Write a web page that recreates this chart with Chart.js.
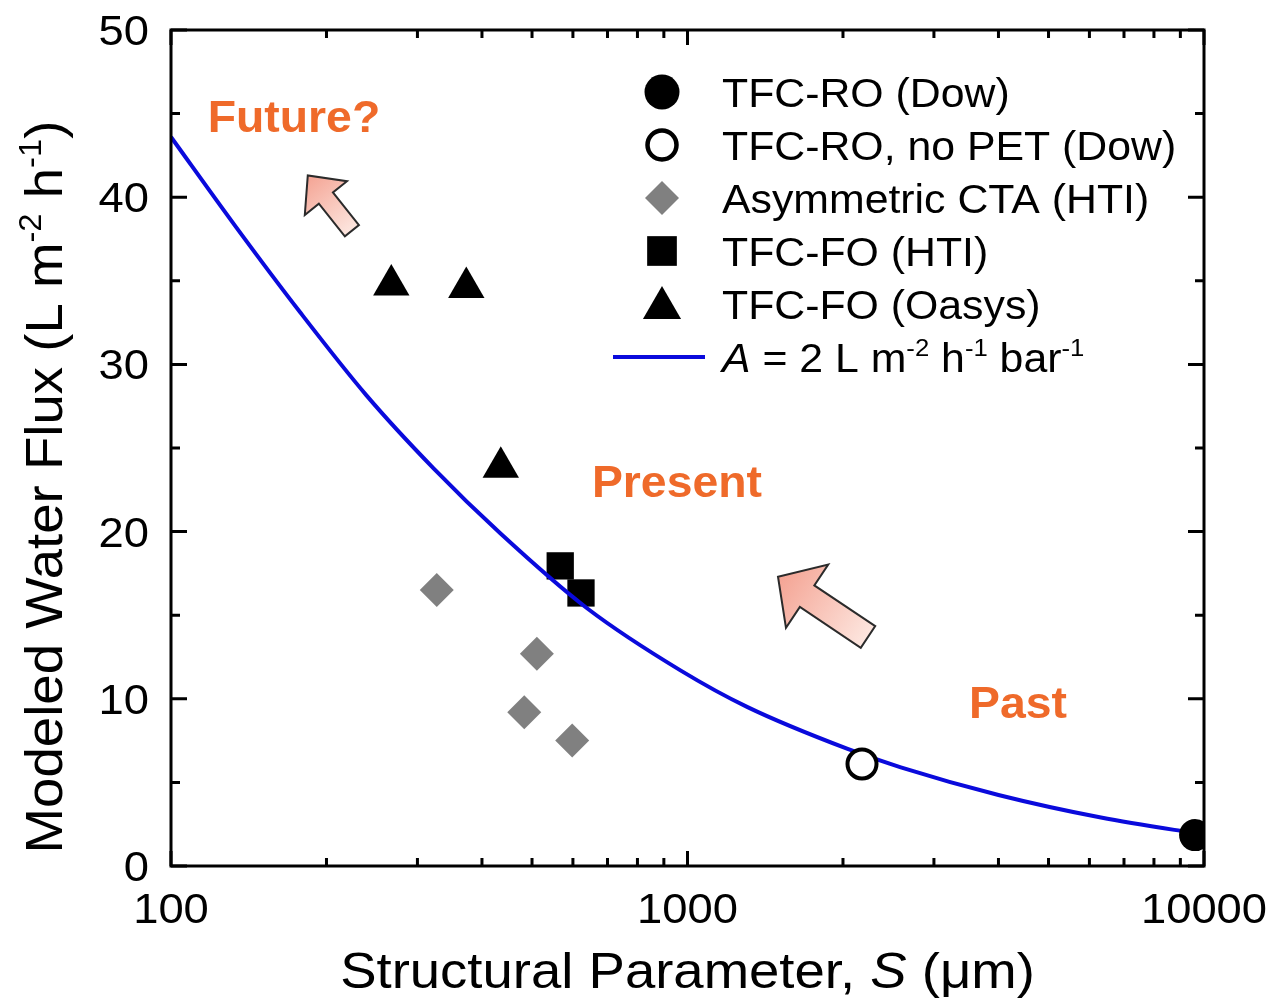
<!DOCTYPE html>
<html>
<head>
<meta charset="utf-8">
<title>Modeled water flux vs structural parameter</title>
<script src="https://cdn.jsdelivr.net/npm/chart.js@4.4.1/dist/chart.umd.min.js"></script>
<style>
	html, body { margin: 0; padding: 0; background: #fff; }
	#wrap { width: 1276px; height: 1005px; position: relative; }
</style>
</head>
<body>
<div id="wrap"><canvas id="chart-flux"></canvas></div>
<script>
// Values
// Model curve, A = 2 L m-2 h-1 bar-1
const curveS = [100, 133, 178, 239, 322, 434, 640, 969, 1307, 2042, 2588, 4000, 6316, 9020, 10000];
const curveFlux = [43.6, 38.3, 33.1, 28.15, 23.8, 19.9, 15.4, 11.7, 9.5, 7.0, 5.9, 4.25, 2.9, 2.1, 1.9];

// Membranes
const roS = [9610];
const roFlux = [1.85];
const roNoPetS = [2177];
const roNoPetFlux = [6.1];
const ctaS = [327, 511, 483, 598];
const ctaFlux = [16.5, 12.7, 9.2, 7.5];
const htiS = [567, 622];
const htiFlux = [17.95, 16.33];
const oasysS = [267, 373, 435];
const oasysFlux = [34.75, 34.6, 23.85];

// Axes
const xMajorTicks = [100, 1000, 10000];
const xMinorTicks = [200, 300, 400, 500, 600, 700, 800, 900, 2000, 3000, 4000, 5000, 6000, 7000, 8000, 9000];
const yMajorTicks = [0, 10, 20, 30, 40, 50];
const yMinorTicks = [5, 15, 25, 35, 45];

const FONT = '"Liberation Sans", Arial, Helvetica, sans-serif';
const ORANGE = '#EF6A2A';
const BLUE = '#0A0ADC';

const pts = (xs, ys) => xs.map((x, i) => ({ x: x, y: ys[i] }));

// text piece: t = text, size = px, rise = superscript lift
const piece = (t, size, opt) => {
	opt = opt || {};
	return {
		t: t,
		font: (opt.italic ? 'italic ' : '') + (opt.bold ? 'bold ' : '') + size + 'px ' + FONT,
		rise: opt.rise || 0,
	};
};

function drawRich(ctx, parts, x, y, align, sx) {
	let w = 0;
	parts.forEach((p) => {
		ctx.font = p.font;
		w += ctx.measureText(p.t).width;
	});
	ctx.save();
	ctx.translate(x, y);
	ctx.scale(sx, 1);
	ctx.textBaseline = 'alphabetic';
	ctx.textAlign = 'left';
	let cx = align === 'center' ? -w / 2 : align === 'right' ? -w : 0;
	parts.forEach((p) => {
		ctx.font = p.font;
		ctx.fillText(p.t, cx, -p.rise);
		cx += ctx.measureText(p.t).width;
	});
	ctx.restore();
}

// Annotations (data coordinates)
const notes = [
	{ text: 'Future?', s: 173, flux: 43.9 },
	{ text: 'Present', s: 954, flux: 22.07 },
	{ text: 'Past', s: 4364, flux: 8.85 },
];
const arrows = [
	{ tail: [224, 38.0], tip: [184, 41.3], head: 29, headHalf: 27, shaftHalf: 9 },
	{ tail: [2236, 13.7], tip: [1497, 17.3], head: 35, headHalf: 38, shaftHalf: 13 },
];

// Frame with inward ticks on all four sides, tick labels and titles
const framePlugin = {
	id: 'frame',
	afterDraw(chart) {
		const { ctx, chartArea: a } = chart;
		const x = chart.scales.x;
		const y = chart.scales.y;
		ctx.save();
		ctx.strokeStyle = '#000';
		ctx.lineWidth = 3;
		ctx.lineJoin = 'miter';
		ctx.strokeRect(a.left, a.top, a.right - a.left, a.bottom - a.top);

		ctx.beginPath();
		const tickX = (v, len) => {
			const px = x.getPixelForValue(v);
			ctx.moveTo(px, a.bottom);
			ctx.lineTo(px, a.bottom - len);
			ctx.moveTo(px, a.top);
			ctx.lineTo(px, a.top + len);
		};
		const tickY = (v, len) => {
			const py = y.getPixelForValue(v);
			ctx.moveTo(a.left, py);
			ctx.lineTo(a.left + len, py);
			ctx.moveTo(a.right, py);
			ctx.lineTo(a.right - len, py);
		};
		xMajorTicks.forEach((v) => tickX(v, 15));
		xMinorTicks.forEach((v) => tickX(v, 8));
		yMajorTicks.forEach((v) => tickY(v, 16));
		yMinorTicks.forEach((v) => tickY(v, 9));
		ctx.stroke();

		// tick labels
		ctx.fillStyle = '#000';
		const tickSize = 42;
		xMajorTicks.forEach((v) => {
			drawRich(ctx, [piece(String(v), tickSize)], x.getPixelForValue(v), a.bottom + 57, 'center', 1.08);
		});
		yMajorTicks.forEach((v) => {
			drawRich(ctx, [piece(String(v), tickSize)], a.left - 22, y.getPixelForValue(v) + 15, 'right', 1.08);
		});

		// x title
		const xs = 50;
		drawRich(ctx, [
			piece('Structural Parameter, ', xs),
			piece('S', xs, { italic: true }),
			piece(' (\u03bcm)', xs),
		], (a.left + a.right) / 2, 988, 'center', 1.09);

		// y title
		const ys = 52;
		ctx.save();
		ctx.translate(62, 487);
		ctx.rotate(-Math.PI / 2);
		drawRich(ctx, [
			piece('Modeled Water Flux (L m', ys),
			piece('-2', ys * 0.6, { rise: ys * 0.4 }),
			piece(' h', ys),
			piece('-1', ys * 0.6, { rise: ys * 0.4 }),
			piece(')', ys),
		], 0, 0, 'center', 1.05);
		ctx.restore();
		ctx.restore();
	},
};

// Orange labels and pink arrows
const notesPlugin = {
	id: 'notes',
	afterDatasetsDraw(chart) {
		const { ctx } = chart;
		const x = chart.scales.x;
		const y = chart.scales.y;
		ctx.save();
		ctx.fillStyle = ORANGE;
		notes.forEach((n) => {
			drawRich(ctx, [piece(n.text, 45, { bold: true })], x.getPixelForValue(n.s), y.getPixelForValue(n.flux), 'center', 1.03);
		});

		arrows.forEach((ar) => {
			const tx = x.getPixelForValue(ar.tail[0]);
			const ty = y.getPixelForValue(ar.tail[1]);
			const hx = x.getPixelForValue(ar.tip[0]);
			const hy = y.getPixelForValue(ar.tip[1]);
			const len = Math.hypot(hx - tx, hy - ty);
			const ux = (hx - tx) / len;
			const uy = (hy - ty) / len;
			const nx = -uy;
			const ny = ux;
			const bx = hx - ux * ar.head;
			const by = hy - uy * ar.head;
			const grad = ctx.createLinearGradient(hx, hy, tx, ty);
			grad.addColorStop(0, '#F4A393');
			grad.addColorStop(1, '#FDE6DF');
			ctx.beginPath();
			ctx.moveTo(tx + nx * ar.shaftHalf, ty + ny * ar.shaftHalf);
			ctx.lineTo(bx + nx * ar.shaftHalf, by + ny * ar.shaftHalf);
			ctx.lineTo(bx + nx * ar.headHalf, by + ny * ar.headHalf);
			ctx.lineTo(hx, hy);
			ctx.lineTo(bx - nx * ar.headHalf, by - ny * ar.headHalf);
			ctx.lineTo(bx - nx * ar.shaftHalf, by - ny * ar.shaftHalf);
			ctx.lineTo(tx - nx * ar.shaftHalf, ty - ny * ar.shaftHalf);
			ctx.closePath();
			ctx.fillStyle = grad;
			ctx.fill();
			ctx.strokeStyle = '#2B2B2B';
			ctx.lineWidth = 2;
			ctx.lineJoin = 'miter';
			ctx.stroke();
		});
		ctx.restore();
	},
};

// Legend in the upper right of the plot
const legendMarkerX = 662;
const legendTextX = 722;
const legendTop = 92;
const legendStep = 53;
const legendSize = 40;
const legendMarkers = [
	{ pointStyle: 'circle', radius: 17.5, fill: '#000', stroke: '#000', borderWidth: 0 },
	{ pointStyle: 'circle', radius: 14.5, fill: '#fff', stroke: '#000', borderWidth: 4.5 },
	{ pointStyle: 'rectRot', radius: 17, fill: '#808080', stroke: '#808080', borderWidth: 0 },
	{ pointStyle: 'rect', radius: 21, fill: '#000', stroke: '#000', borderWidth: 0 },
	{ pointStyle: 'triangle', radius: 22, fill: '#000', stroke: '#000', borderWidth: 0 },
];

const legendPlugin = {
	id: 'legendBox',
	afterDraw(chart) {
		const { ctx } = chart;
		const labels = chart.data.datasets.map((d) => d.label);
		ctx.save();
		legendMarkers.forEach((m, i) => {
			const cy = legendTop + i * legendStep;
			ctx.fillStyle = m.fill;
			ctx.strokeStyle = m.stroke;
			ctx.lineWidth = m.borderWidth;
			Chart.helpers.drawPoint(ctx, { pointStyle: m.pointStyle, radius: m.radius, rotation: 0, borderWidth: m.borderWidth }, legendMarkerX, m.pointStyle === 'triangle' ? cy + 4 : cy);
			ctx.fillStyle = '#000';
			drawRich(ctx, [piece(labels[i], legendSize)], legendTextX, cy + 15, 'left', 1.07);
		});
		// model line row
		const cy = legendTop + 5 * legendStep;
		ctx.strokeStyle = BLUE;
		ctx.lineWidth = 4;
		ctx.beginPath();
		ctx.moveTo(613, cy);
		ctx.lineTo(705, cy);
		ctx.stroke();
		ctx.fillStyle = '#000';
		const s = legendSize;
		drawRich(ctx, [
			piece('A', s, { italic: true }),
			piece(' = 2 L m', s),
			piece('-2', s * 0.6, { rise: s * 0.4 }),
			piece(' h', s),
			piece('-1', s * 0.6, { rise: s * 0.4 }),
			piece(' bar', s),
			piece('-1', s * 0.6, { rise: s * 0.4 }),
		], legendTextX, cy + 15, 'left', 1.07);
		ctx.restore();
	},
};

!(function () {
	const ctx = document.getElementById('chart-flux');

	new Chart(ctx, {
		type: 'scatter',
		data: {
			datasets: [
				{
					label: 'TFC-RO (Dow)',
					data: pts(roS, roFlux),
					pointStyle: 'circle',
					pointRadius: 16,
					pointBackgroundColor: '#000',
					pointBorderWidth: 0,
					clip: 0,
					order: 0,
				},
				{
					label: 'TFC-RO, no PET (Dow)',
					data: pts(roNoPetS, roNoPetFlux),
					pointStyle: 'circle',
					pointRadius: 14.5,
					pointBackgroundColor: '#fff',
					pointBorderColor: '#000',
					pointBorderWidth: 4,
					order: 0,
				},
				{
					label: 'Asymmetric CTA (HTI)',
					data: pts(ctaS, ctaFlux),
					pointStyle: 'rectRot',
					pointRadius: 17,
					pointBackgroundColor: '#808080',
					pointBorderWidth: 0,
					order: 3,
				},
				{
					label: 'TFC-FO (HTI)',
					data: pts(htiS, htiFlux),
					pointStyle: 'rect',
					pointRadius: 19.3,
					pointBackgroundColor: '#000',
					pointBorderWidth: 0,
					order: 3,
				},
				{
					label: 'TFC-FO (Oasys)',
					data: pts(oasysS, oasysFlux),
					pointStyle: 'triangle',
					pointRadius: 21,
					pointBackgroundColor: '#000',
					pointBorderWidth: 0,
					order: 3,
				},
				{
					label: 'A = 2 L m-2 h-1 bar-1',
					data: pts(curveS, curveFlux),
					showLine: true,
					pointRadius: 0,
					borderColor: BLUE,
					borderWidth: 4,
					cubicInterpolationMode: 'monotone',
					fill: false,
					order: 1,
				},
			],
		},
		options: {
			responsive: true,
			maintainAspectRatio: false,
			animation: false,
			events: [],
			layout: {
				padding: { left: 171, right: 72, top: 30, bottom: 139 },
			},
			scales: {
				x: { type: 'logarithmic', min: 100, max: 10000, display: false },
				y: { type: 'linear', min: 0, max: 50, display: false },
			},
			plugins: {
				legend: { display: false },
				tooltip: { enabled: false },
			},
		},
		plugins: [notesPlugin, framePlugin, legendPlugin],
	});
})();
</script>
</body>
</html>
